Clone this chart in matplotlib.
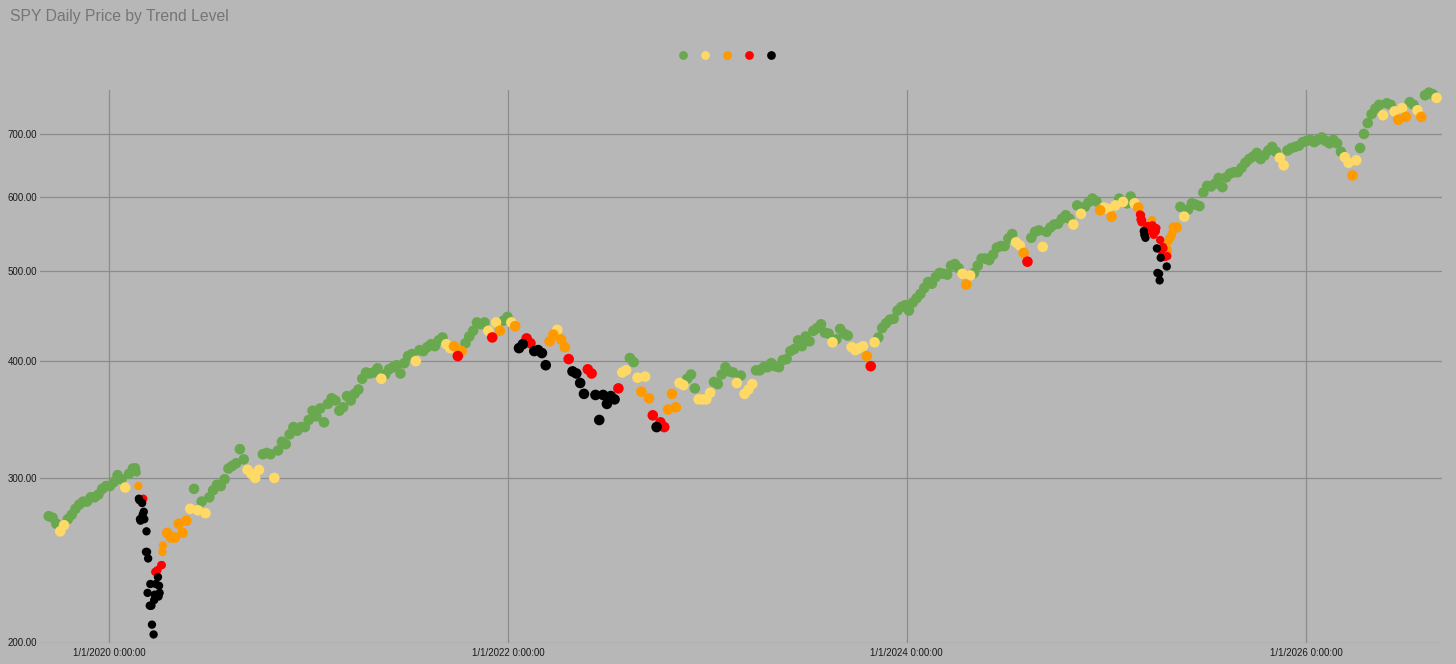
import matplotlib
matplotlib.use("Agg")
import matplotlib.pyplot as plt
from matplotlib.lines import Line2D
from matplotlib.ticker import FixedLocator, NullLocator
import pandas as pd

plt.rcParams["font.family"] = ["Liberation Sans", "DejaVu Sans"]

# trend levels: G green, Y yellow, O orange, R red, K black
level_codes = ["G", "Y", "O", "R", "K"]
level_colors = ["#6aa84f", "#ffd966", "#ff9900", "#ff0000", "#000000"]

# weekly closes (Fridays) from 2019-09-13
close_2019 = [273, 272, 268, 263, 267, 271, 274, 278, 281, 283, 283, 286, 286, 288, 292, 294,
              294, 297, 302, 299, 293, 303, 307]
level_2019 = "GGGYYGGGGGGGGGGGGGGGYGG"

# daily closes from 2020-02-18 (covid crash)
close_crash_2020 = [307, 308, 307, 304, 294, 285, 284, 271, 270, 282, 274, 285, 276, 271, 250, 263,
                    250, 226, 246, 219, 231, 219, 219, 209, 204, 222, 225, 238, 231, 239, 235, 224,
                    230, 226, 242, 242, 250, 254]
level_crash_2020 = "GGGG" "OKKKK" "KKRKK" "KKKKK" "KKKKK" "KKKRK" "RK" "KKK" "RROO"

# weekly closes from 2020-04-17
close_2020 = [262, 259, 259, 268, 262, 270, 278, 292, 277, 283, 275, 286, 291, 295, 294, 299,
              307, 309, 311, 322, 314, 306, 303, 300, 306, 318, 319, 318, 300, 321, 328, 326,
              334, 340, 337, 340, 340]
level_2020 = "OOOOOO" "YGYGY" "GGGGG" "GGGG" "GYYY" "YGGGY" "GGGG" "GGGG"

# weekly closes from 2021-01-01
close_2021 = [346, 354, 349, 356, 344, 360, 365, 363, 354, 357, 367, 363, 369, 373, 383, 389,
              388, 389, 393, 383, 387, 392, 394, 396, 388, 398, 405, 407, 400, 411, 410, 414,
              417, 415, 421, 424, 417, 413, 415, 405, 410, 418, 425, 431, 440, 438, 440, 431,
              424, 440, 431, 442, 446]
level_2021 = "GGGGGGGGGGGGGGGGGGG" "Y" "GGGGGGGG" "Y" "GGGGGGG" "YYORO" "GGGGGG" "YRYOGG"

# weekly closes from 2022-01-07
close_2022 = [440, 436, 413, 417, 423, 418, 410, 411, 408, 396, 420, 427, 432, 422, 414, 402,
              390, 388, 379, 369, 392, 388, 368, 346, 368, 360, 367, 364, 374, 389, 391, 403,
              399, 384, 371, 385, 365, 350, 340, 344, 340, 355, 369, 357, 379, 377, 383, 387,
              374, 364, 364, 364]
level_2022 = "YOKKRRKKKK" "OOYOORKKKK" "RRKKKKKKRY" "YGGYOYORKR" "ROOOYYGGGY" "YY"

# weekly closes from 2023-01-06
close_2023 = [370, 380, 378, 387, 394, 390, 389, 379, 386, 369, 373, 378, 391, 391, 394, 394,
              398, 395, 394, 401, 402, 410, 412, 421, 415, 425, 420, 431, 434, 438, 429, 428,
              419, 422, 433, 428, 426, 414, 411, 413, 415, 405, 395, 419, 424, 434, 439, 443,
              444, 453, 457, 459]
level_2023 = "YGGGGGGYGY" "YYGGGGGGGG" "GGGGGGGGGG" "GGYGGGGYYY" "YORYGGGGGG" "GG"

# weekly closes from 2024-01-05
close_2024 = [453, 462, 467, 472, 479, 486, 484, 492, 497, 496, 495, 506, 508, 503, 496, 483,
              494, 497, 506, 515, 515, 513, 520, 529, 531, 531, 541, 547, 536, 532, 522, 511,
              542, 550, 552, 530, 550, 556, 560, 561, 568, 573, 568, 560, 587, 575, 585, 592,
              597, 593, 580, 584]
level_2024 = "GGGGGGGGGGGGGG" "YOY" "GGGGGGGGGGG" "YYOR" "GGG" "Y" "GGGGGGG" "Y" "G" "Y" "GGGG" "OY"

# weekly closes from 2025-01-03
close_2025a = [582, 571, 587, 597, 592, 590, 600, 590, 584]
level_2025a = "YOYGYGGYO"

# daily closes from 2025-03-03 (tariff sell-off)
close_crash_2025 = [574, 567, 573, 563, 566, 551, 546, 549, 542, 553, 558, 551, 557, 556, 554,
                    564, 566, 559, 557, 546, 550, 551, 555, 528, 497, 496, 488, 539, 516, 525,
                    530, 528, 517, 517, 505, 518, 526, 537, 541, 542, 545, 545, 549, 557]
level_crash_2025 = "RRRRR" "KKRKR" "RRRRR" "OORRR" "RRRKK" "KKRKR" "RRRR" "KROOO" "OOOOO"

# weekly closes from 2025-05-09
close_2025b = [556, 585, 571, 581, 590, 588, 586, 606, 616, 615, 619, 628, 614, 629, 635, 637,
               637, 644, 652, 658, 662, 668, 658, 664, 672, 678, 670, 660, 648, 672, 676, 678,
               680, 686]
level_2025b = "OGYG" + "G" * 23 + "YY" + "GGGGG"

# weekly closes from 2026-01-02
close_2026 = [688, 690, 686, 690, 694, 688, 684, 690, 684, 670, 661, 652, 632, 656, 676, 700,
              719, 735, 745, 752, 733, 755, 752, 740, 725, 746, 730, 757, 752, 742, 730, 770,
              775, 772, 765]
level_2026 = "GGGGGGGGGG" "YYOYGGGGGG" "YGGYOYOGGY" "OGGGY"

y_ticks = [200, 300, 400, 500, 600, 700]
x_ticks = ["2020-01-01", "2022-01-01", "2024-01-01", "2026-01-01"]
x_tick_labels = ["1/1/2020 0:00:00", "1/1/2022 0:00:00", "1/1/2024 0:00:00", "1/1/2026 0:00:00"]


def weekly(start, close, level):
    d = pd.date_range(start, periods=len(close), freq="W-FRI")
    return pd.DataFrame({"date": d, "close": close, "level": list(level), "size": 58})


def daily(start, close, level, holidays=()):
    d = pd.bdate_range(start, periods=len(close), freq="C", holidays=list(holidays))
    return pd.DataFrame({"date": d, "close": close, "level": list(level), "size": 36})


df = pd.concat([
    weekly("2019-09-13", close_2019, level_2019),
    daily("2020-02-18", close_crash_2020, level_crash_2020),
    weekly("2020-04-17", close_2020, level_2020),
    weekly("2021-01-01", close_2021, level_2021),
    weekly("2022-01-07", close_2022, level_2022),
    weekly("2023-01-06", close_2023, level_2023),
    weekly("2024-01-05", close_2024, level_2024),
    weekly("2025-01-03", close_2025a, level_2025a),
    daily("2025-03-03", close_crash_2025, level_crash_2025, holidays=["2025-04-18"]),
    weekly("2025-05-09", close_2025b, level_2025b),
    weekly("2026-01-02", close_2026, level_2026),
], ignore_index=True)

bg = "#b7b7b7"
fig = plt.figure(figsize=(14.56, 6.64), dpi=100, facecolor=bg)
ax = fig.add_axes([40 / 1456, 1 - 642.5 / 664, 1402 / 1456, 552.5 / 664])
ax.set_facecolor(bg)

for code, color in zip(level_codes, level_colors):
    part = df[df["level"] == code]
    ax.scatter(part["date"], part["close"], s=part["size"], color=color, linewidths=0,
               zorder=3, clip_on=False)

ax.set_yscale("log")
ax.set_ylim(200, 780)
ax.set_xlim(pd.Timestamp("2019-08-28"), pd.Timestamp("2026-09-07"))
ax.yaxis.set_major_locator(FixedLocator(y_ticks))
ax.yaxis.set_minor_locator(NullLocator())
ax.set_yticklabels([f"{v:.2f}" for v in y_ticks])
ax.set_xticks(pd.to_datetime(x_ticks))
ax.set_xticklabels(x_tick_labels)

ax.grid(True, color="#8c8c8c", linewidth=0.9)
ax.set_axisbelow(True)
for s in ax.spines.values():
    s.set_visible(False)
ax.tick_params(axis="both", length=0, labelsize=7, labelcolor="#1a1a1a")
ax.tick_params(axis="y", pad=2)
ax.tick_params(axis="x", pad=4)

fig.text(10 / 1456, 1 - 17 / 664, "SPY Daily Price by Trend Level", fontsize=11.3,
         color="#757575", va="center", ha="left")

handles = [Line2D([], [], marker="o", linestyle="", markersize=6.3, markerfacecolor=c,
                  markeredgewidth=0) for c in level_colors]
fig.legend(handles, [""] * 5, loc="center", bbox_to_anchor=(727 / 1456, 1 - 55 / 664),
           ncol=5, frameon=False, handlelength=1, handletextpad=0, columnspacing=1.24,
           fontsize=7, borderpad=0)

fig.savefig("out.png", dpi=100, facecolor=bg)
